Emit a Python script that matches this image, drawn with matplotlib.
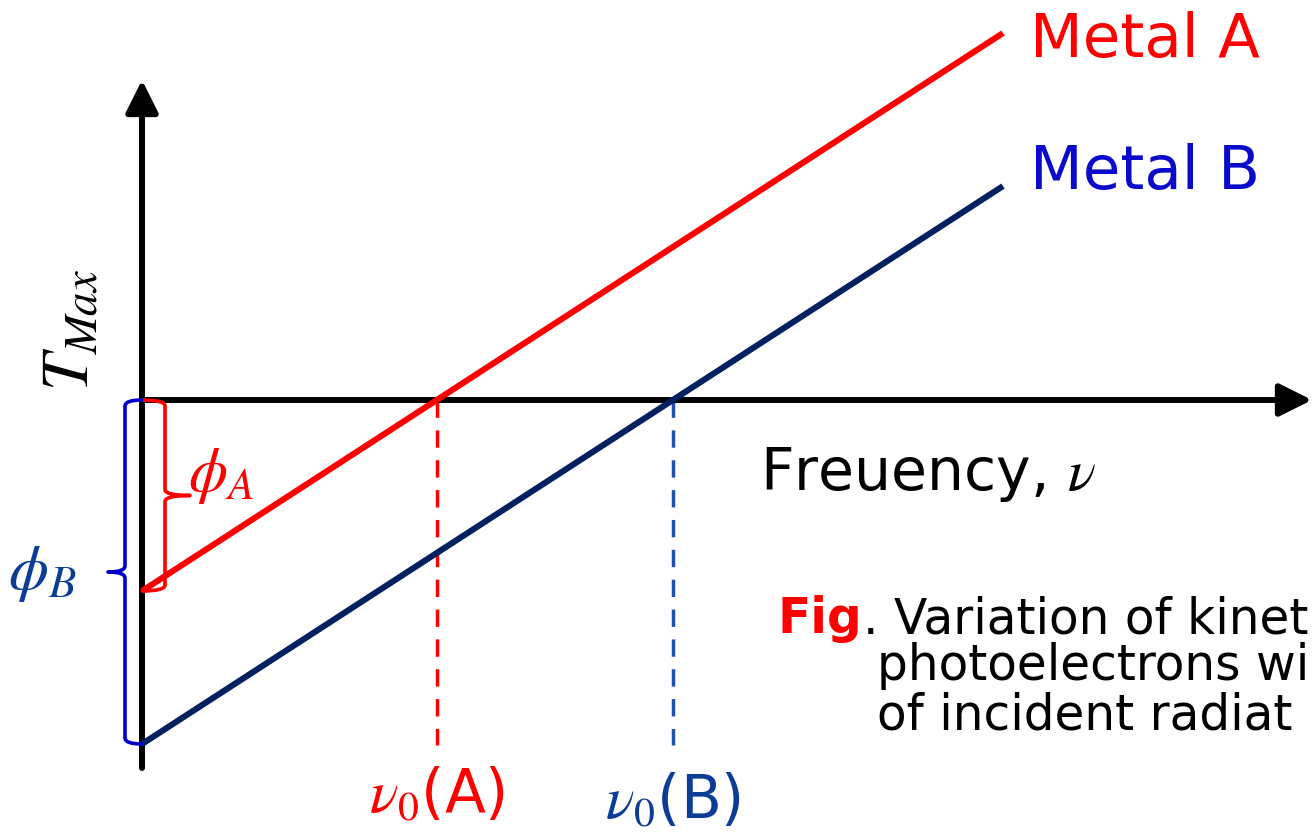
import matplotlib
matplotlib.use("Agg")
import matplotlib.pyplot as plt
from matplotlib.path import Path
from matplotlib.patches import PathPatch

plt.rcParams["mathtext.fontset"] = "stix"
plt.rcParams["font.family"] = ["DejaVu Sans"]

# Photoelectric effect: T_max = h*nu - phi
metals = ["Metal A", "Metal B"]
work_function = [1.91, 3.44]      # phi_A, phi_B
slope_h = 0.648                   # common slope (Planck constant)
nu_end = 8.61                     # frequency where the lines stop
line_colors = ["#ff0000", "#002060"]
label_colors = ["#ff0000", "#0a0acc"]
marker_colors = ["#ff0000", "#2050b0"]
text_colors = ["#ff0000", "#0b3d96"]
caption_lines = ["Variation of kinet", "photoelectrons wi", "of incident radiat"]

threshold = [phi / slope_h for phi in work_function]

fig = plt.figure(figsize=(13.12, 8.33), dpi=100)
ax = fig.add_axes([0, 0, 1, 1])
ax.set_xlim(-1.42, 11.70)
ax.set_ylim(-4.33, 4.00)
ax.axis("off")

# coordinate axes with arrow heads
arrow_kw = dict(arrowstyle="-|>,head_length=0.9,head_width=0.45", lw=4.3,
                color="black", shrinkA=0, shrinkB=0, mutation_scale=22)
ax.annotate("", xy=(0, 3.20), xytext=(0, -3.68), arrowprops=arrow_kw)
ax.annotate("", xy=(11.70, 0), xytext=(0, 0), arrowprops=arrow_kw)

# T_max vs frequency lines
for phi, col in zip(work_function, line_colors):
    xs = [0, nu_end]
    ys = [slope_h * x - phi for x in xs]
    ax.plot(xs, ys, color=col, lw=4.4, solid_capstyle="butt", zorder=3)

# threshold frequency markers
for nu0, col in zip(threshold, marker_colors):
    ax.plot([nu0, nu0], [0, -3.45], color=col, lw=2.5,
            dashes=(5, 3.6), zorder=2)


def brace(x_stem, y_top, y_bot, depth, r=0.06, x_end=0.0):
    """Curly brace along a vertical span, tip pointing by `depth`."""
    ym = 0.5 * (y_top + y_bot)
    verts = [
        (x_end, y_top), (x_stem, y_top), (x_stem, y_top - r),
        (x_stem, ym + r),
        (x_stem, ym), (x_stem + depth, ym),
        (x_stem, ym), (x_stem, ym - r),
        (x_stem, y_bot + r),
        (x_stem, y_bot), (x_end, y_bot),
    ]
    codes = [Path.MOVETO, Path.CURVE3, Path.CURVE3, Path.LINETO,
             Path.CURVE3, Path.CURVE3, Path.CURVE3, Path.CURVE3,
             Path.LINETO, Path.CURVE3, Path.CURVE3]
    return PathPatch(Path(verts, codes), fill=False, lw=2.6, capstyle="round",
                     joinstyle="round")


bA = brace(0.23, 0, -work_function[0], 0.25)
bA.set_edgecolor("#ff0000")
bA.set_zorder(4)
ax.add_patch(bA)
bB = brace(-0.17, 0, -work_function[1], -0.17)
bB.set_edgecolor("#0000cc")
bB.set_zorder(4)
ax.add_patch(bB)

# labels
ax.text(8.88, 3.60, metals[0], color=label_colors[0], fontsize=44,
        ha="left", va="center")
ax.text(8.88, 2.27, metals[1], color=label_colors[1], fontsize=44,
        ha="left", va="center")
ax.text(6.18, -0.75, r"Freuency, $\nu$", color="black", fontsize=42,
        ha="left", va="center")
ax.text(-0.72, 0.70, r"$T_{Max}$", color="black", fontsize=48,
        rotation=90, ha="center", va="center")
ax.text(0.46, -0.76, r"$\phi_A$", color=text_colors[0], fontsize=45,
        ha="left", va="center")
ax.text(-1.34, -1.73, r"$\phi_B$", color=text_colors[1], fontsize=46,
        ha="left", va="center")
ax.text(threshold[0], -3.96, r"$\nu_0$(A)", color=text_colors[0],
        fontsize=43, ha="center", va="center")
ax.text(threshold[1], -4.02, r"$\nu_0$(B)", color=text_colors[1],
        fontsize=43, ha="center", va="center")

# caption
fig_lbl = ax.text(6.36, -2.33, "Fig", color="#ff0000", fontsize=35,
                  fontweight="bold", ha="left", va="baseline")
ax.annotate(". " + caption_lines[0], xy=(1, 0),
            xycoords=fig_lbl, fontsize=35, color="black",
            ha="left", va="bottom")
ax.text(7.35, -2.80, caption_lines[1], color="black",
        fontsize=35, ha="left", va="baseline")
ax.text(7.35, -3.30, caption_lines[2], color="black",
        fontsize=35, ha="left", va="baseline")

fig.savefig("out.png", dpi=100)
